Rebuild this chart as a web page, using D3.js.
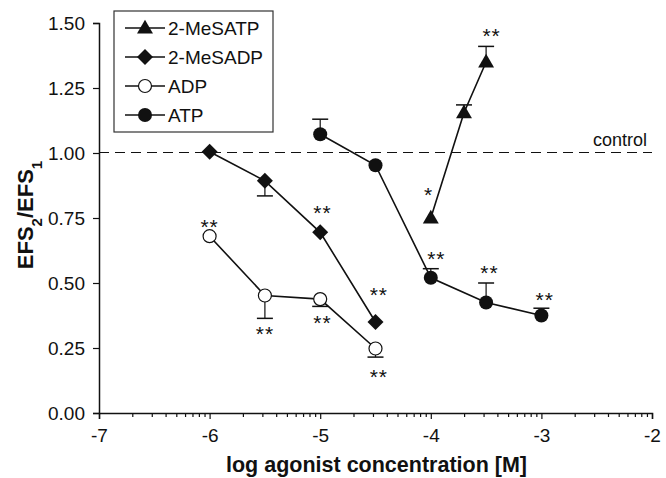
<!DOCTYPE html>
<html>
<head>
<meta charset="utf-8">
<script src="https://cdn.jsdelivr.net/npm/d3@7"></script>
<style>
  body { margin: 0; background: #fff; }
  text { font-family: "Liberation Sans", Arial, sans-serif; fill: #111; }
</style>
</head>
<body>
<svg width="666" height="478"></svg>
<script>
// values
var seriesNames = ["2-MeSATP", "2-MeSADP", "ADP", "ATP"];
var seriesSymbols = ["triangle", "diamond", "openCircle", "circle"];

var mesatpX = [-4, -3.7, -3.5],
    mesatpY = [0.75, 1.155, 1.35],
    mesatpErr = [0, 0.03, 0.06];        // + direction

var mesadpX = [-6, -5.5, -5, -4.5],
    mesadpY = [1.005, 0.893, 0.695, 0.35],
    mesadpErr = [0, -0.058, 0, 0];

var adpX = [-6, -5.5, -5, -4.5],
    adpY = [0.68, 0.452, 0.438, 0.248],
    adpErr = [0, -0.088, -0.028, -0.033];

var atpX = [-5, -4.5, -4, -3.5, -3],
    atpY = [1.072, 0.953, 0.52, 0.425, 0.375],
    atpErr = [0.058, 0, 0.035, 0.075, 0.028];

// significance marks: x, y (centre of the glyphs), text
var sigX = [-6, -5.5, -4.98, -4.47, -4.98, -4.47, -3.95, -3.47, -2.97, -4.02, -3.45],
    sigY = [0.73, 0.32, 0.362, 0.152, 0.783, 0.47, 0.607, 0.555, 0.45, 0.855, 1.465],
    sigText = ["**", "**", "**", "**", "**", "**", "**", "**", "**", "*", "**"];

var yTicks = [0, 0.25, 0.5, 0.75, 1.0, 1.25, 1.5];
var xTicks = [-7, -6, -5, -4, -3, -2];
var controlLevel = 1.0;

var svg = d3.select("svg"),
    margin = {top: 23, right: 14, bottom: 65, left: 99},
    width = +svg.attr("width") - margin.left - margin.right,
    height = +svg.attr("height") - margin.top - margin.bottom;

var x = d3.scaleLinear().domain([-7, -2]).range([0, width]),
    y = d3.scaleLinear().domain([0, 1.5]).range([height, 0]);

var g = svg.append("g")
    .attr("transform", "translate(" + margin.left + "," + margin.top + ")");

// control line
g.append("line")
    .attr("x1", 0).attr("x2", width)
    .attr("y1", y(controlLevel) - 0.5).attr("y2", y(controlLevel) - 0.5)
    .attr("stroke", "#111").attr("stroke-width", 1.2)
    .attr("stroke-dasharray", "10,6");

g.append("text")
    .attr("x", width - 5).attr("y", y(controlLevel) - 7)
    .attr("text-anchor", "end")
    .style("font-size", "18px")
    .text("control");

// axes
var minorTicks = [];
for (var d = -7; d < -2; d++) {
  for (var k = 2; k <= 9; k++) minorTicks.push(d + Math.log10(k));
}

var xAxis = g.append("g")
    .attr("transform", "translate(0," + height + ")")
    .call(d3.axisBottom(x).tickValues(xTicks).tickSize(6).tickPadding(10)
      .tickFormat(function(d) { return d; }));

g.append("g")
    .attr("transform", "translate(0," + height + ")")
    .call(d3.axisBottom(x).tickValues(minorTicks).tickSize(4).tickFormat(""))
    .select(".domain").remove();

var yAxis = g.append("g")
    .call(d3.axisLeft(y).tickValues(yTicks).tickSize(6).tickPadding(8)
      .tickFormat(d3.format(".2f")));

g.selectAll(".domain").attr("stroke", "#111").attr("stroke-width", 1.5);
g.selectAll(".tick line").attr("stroke", "#111").attr("stroke-width", 1.2);
g.selectAll(".tick text").style("font-size", "19px").attr("fill", "#111")
    .style("font-family", "'Liberation Sans', Arial, sans-serif");

// axis titles
svg.append("text")
    .attr("x", margin.left + width / 2 + 1).attr("y", 472)
    .attr("text-anchor", "middle")
    .style("font-size", "21.5px").style("font-weight", "bold")
    .text("log agonist concentration [M]");

var yl = svg.append("text")
    .attr("transform", "translate(33,215) rotate(-90)")
    .attr("text-anchor", "middle")
    .style("font-size", "22px").style("font-weight", "bold");
yl.append("tspan").text("EFS");
yl.append("tspan").attr("baseline-shift", "sub").style("font-size", "15px").text("2");
yl.append("tspan").text("/EFS");
yl.append("tspan").attr("baseline-shift", "sub").style("font-size", "15px").text("1");

// symbols
function drawSymbol(sel, type) {
  if (type === "triangle") {
    sel.append("path").attr("d", d3.symbol(d3.symbolTriangle, 110)())
      .attr("transform", "translate(0,1)").attr("fill", "#111");
  } else if (type === "diamond") {
    sel.append("path").attr("d", "M0,-8L8,0L0,8L-8,0Z").attr("fill", "#111");
  } else if (type === "openCircle") {
    sel.append("circle").attr("r", 6.5).attr("fill", "#fff")
      .attr("stroke", "#111").attr("stroke-width", 1.2);
  } else {
    sel.append("circle").attr("r", 7).attr("fill", "#111");
  }
}

var series = [
  {xs: mesatpX, ys: mesatpY, err: mesatpErr},
  {xs: mesadpX, ys: mesadpY, err: mesadpErr},
  {xs: adpX, ys: adpY, err: adpErr},
  {xs: atpX, ys: atpY, err: atpErr}
];

var line = d3.line()
    .x(function(d) { return x(d.x); })
    .y(function(d) { return y(d.y); });

series.forEach(function(s, i) {
  var pts = s.xs.map(function(v, j) { return {x: v, y: s.ys[j], e: s.err[j]}; });

  g.append("path").datum(pts)
      .attr("d", line)
      .attr("fill", "none").attr("stroke", "#111").attr("stroke-width", 1.6);

  // error bars (one-sided)
  var eb = g.selectAll(null).data(pts.filter(function(p) { return p.e !== 0; }))
    .enter().append("g");
  eb.append("line")
      .attr("x1", function(p) { return x(p.x); })
      .attr("x2", function(p) { return x(p.x); })
      .attr("y1", function(p) { return y(p.y); })
      .attr("y2", function(p) { return y(p.y + p.e); })
      .attr("stroke", "#111").attr("stroke-width", 1.2);
  eb.append("line")
      .attr("x1", function(p) { return x(p.x) - 8; })
      .attr("x2", function(p) { return x(p.x) + 8; })
      .attr("y1", function(p) { return y(p.y + p.e); })
      .attr("y2", function(p) { return y(p.y + p.e); })
      .attr("stroke", "#111").attr("stroke-width", 1.5);

  g.selectAll(null).data(pts).enter().append("g")
      .attr("transform", function(p) { return "translate(" + x(p.x) + "," + y(p.y) + ")"; })
      .each(function() { drawSymbol(d3.select(this), seriesSymbols[i]); });
});

// significance asterisks
g.selectAll(null).data(sigX).enter().append("text")
    .attr("x", function(d) { return x(d); })
    .attr("y", function(d, i) { return y(sigY[i]) + 11; })
    .attr("text-anchor", "middle")
    .style("font-size", "21px")
    .attr("letter-spacing", "1px")
    .text(function(d, i) { return sigText[i]; });

// legend
var legend = svg.append("g").attr("transform", "translate(114,11)");
legend.append("rect")
    .attr("width", 159).attr("height", 121)
    .attr("fill", "#fff").attr("stroke", "#333").attr("stroke-width", 1.2);

var items = legend.selectAll(null).data(seriesNames).enter().append("g")
    .attr("transform", function(d, i) { return "translate(0," + (17 + i * 29) + ")"; });
items.append("line")
    .attr("x1", 11).attr("x2", 51)
    .attr("stroke", "#111").attr("stroke-width", 1.6);
items.append("g").attr("transform", "translate(31,0)")
    .each(function(d, i) { drawSymbol(d3.select(this), seriesSymbols[i]); });
items.append("text")
    .attr("x", 54).attr("y", 7)
    .style("font-size", "19px")
    .text(function(d) { return d; });
</script>
</body>
</html>
